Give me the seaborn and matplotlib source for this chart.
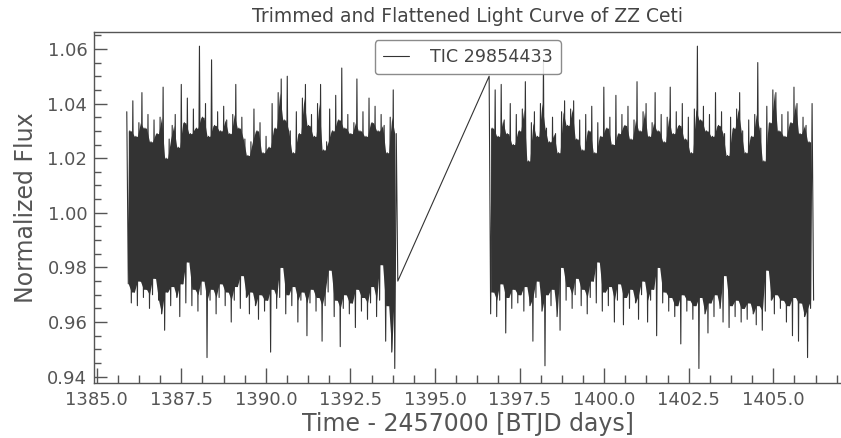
import numpy as np
import pandas as pd
import matplotlib
matplotlib.use("Agg")
import matplotlib.pyplot as plt
from matplotlib.ticker import AutoMinorLocator, MultipleLocator
import seaborn as sns

# ---------------- data ----------------
target_label = "TIC 29854433"
title = "Trimmed and Flattened Light Curve of ZZ Ceti"
xlabel = "Time - 2457000 [BTJD days]"
ylabel = "Normalized Flux"

seg1_start, seg1_end = 1385.89, 1393.90
seg2_start, seg2_end = 1396.60, 1406.19

seg1_peaks = [1.037, 1.030, 1.041, 1.028, 1.033, 1.044, 1.031, 1.036, 1.026, 1.034,
              1.029, 1.035, 1.046, 1.020, 1.027, 1.032, 1.036, 1.024, 1.047, 1.033,
              1.042, 1.029, 1.038, 1.031, 1.061, 1.035, 1.040, 1.028, 1.056, 1.032,
              1.037, 1.030, 1.039, 1.034, 1.029, 1.036, 1.047, 1.031, 1.035, 1.027,
              1.021, 1.026, 1.038, 1.030, 1.033, 1.022, 1.028, 1.024, 1.040, 1.031,
              1.044, 1.049, 1.034, 1.050, 1.030, 1.022, 1.037, 1.029, 1.042, 1.047,
              1.032, 1.036, 1.028, 1.040, 1.047, 1.023, 1.026, 1.038, 1.030, 1.043,
              1.034, 1.053, 1.031, 1.036, 1.029, 1.033, 1.049, 1.030, 1.037, 1.028,
              1.042, 1.033, 1.039, 1.030, 1.036, 1.032, 1.022, 1.035, 1.045, 1.029]
seg1_troughs = [0.974, 0.967, 0.971, 0.966, 0.975, 0.969, 0.972, 0.965, 0.970, 0.976,
                0.968, 0.963, 0.957, 0.971, 0.966, 0.973, 0.969, 0.962, 0.974, 0.967,
                0.982, 0.966, 0.972, 0.964, 0.970, 0.975, 0.947, 0.968, 0.972, 0.963,
                0.969, 0.974, 0.966, 0.971, 0.960, 0.968, 0.973, 0.965, 0.977, 0.969,
                0.963, 0.971, 0.966, 0.961, 0.970, 0.964, 0.968, 0.949, 0.972, 0.965,
                0.969, 0.980, 0.963, 0.970, 0.966, 0.973, 0.960, 0.968, 0.971, 0.955,
                0.967, 0.972, 0.964, 0.969, 0.953, 0.966, 0.971, 0.979, 0.962, 0.968,
                0.951, 0.965, 0.970, 0.963, 0.967, 0.958, 0.972, 0.964, 0.969, 0.961,
                0.967, 0.973, 0.962, 0.968, 0.981, 0.953, 0.966, 0.949, 0.943, 0.975]

seg2_peaks = [1.050, 1.031, 1.045, 1.028, 1.047, 1.034, 1.029, 1.040, 1.025, 1.036,
              1.030, 1.038, 1.048, 1.019, 1.033, 1.037, 1.028, 1.040, 1.056, 1.031,
              1.026, 1.035, 1.029, 1.022, 1.037, 1.041, 1.032, 1.038, 1.041, 1.027,
              1.034, 1.023, 1.036, 1.030, 1.039, 1.022, 1.033, 1.028, 1.046, 1.031,
              1.035, 1.025, 1.043, 1.029, 1.036, 1.032, 1.039, 1.027, 1.034, 1.048,
              1.030, 1.037, 1.040, 1.028, 1.033, 1.044, 1.030, 1.036, 1.026, 1.035,
              1.046, 1.029, 1.037, 1.032, 1.040, 1.027, 1.035, 1.022, 1.038, 1.061,
              1.034, 1.039, 1.030, 1.036, 1.028, 1.044, 1.032, 1.037, 1.029, 1.021,
              1.035, 1.031, 1.038, 1.044, 1.030, 1.022, 1.034, 1.028, 1.036, 1.055,
              1.031, 1.019, 1.039, 1.033, 1.045, 1.044, 1.030, 1.036, 1.028, 1.037,
              1.033, 1.046, 1.040, 1.029, 1.035, 1.032, 1.026, 1.040]
seg2_troughs = [0.963, 0.971, 0.962, 0.968, 0.974, 0.956, 0.969, 0.965, 0.972, 0.967,
                0.970, 0.964, 0.973, 0.966, 0.953, 0.969, 0.975, 0.964, 0.944, 0.970,
                0.966, 0.972, 0.962, 0.957, 0.980, 0.968, 0.973, 0.965, 0.970, 0.976,
                0.966, 0.972, 0.963, 0.969, 0.975, 0.967, 0.982, 0.964, 0.971, 0.966,
                0.973, 0.960, 0.968, 0.974, 0.959, 0.969, 0.965, 0.972, 0.967, 0.961,
                0.970, 0.975, 0.960, 0.968, 0.972, 0.955, 0.980, 0.967, 0.971, 0.964,
                0.969, 0.962, 0.966, 0.952, 0.970, 0.964, 0.968, 0.961, 0.966, 0.943,
                0.969, 0.963, 0.956, 0.967, 0.962, 0.970, 0.965, 0.960, 0.977, 0.958,
                0.966, 0.962, 0.968, 0.960, 0.965, 0.961, 0.967, 0.963, 0.959, 0.966,
                0.957, 0.964, 0.979, 0.968, 0.963, 0.970, 0.965, 0.968, 0.960, 0.966,
                0.955, 0.969, 0.953, 0.967, 0.962, 0.947, 0.965, 0.968]


def interleave(peaks, troughs):
    out = []
    for p, t in zip(peaks, troughs):
        out.extend([p, t])
    return out


def dense_core(peaks, troughs):
    """Region that the densely sampled curve covers solidly: between two
    neighbouring peaks (troughs) the strokes overlap up to the lower
    (higher) of the two."""
    p = np.asarray(peaks)
    t = np.asarray(troughs)
    return np.minimum(p[:-1], p[1:]), np.maximum(t[:-1], t[1:])


flux1 = interleave(seg1_peaks, seg1_troughs)
flux2 = interleave(seg2_peaks, seg2_troughs)
time1 = np.linspace(seg1_start, seg1_end, len(flux1))
time2 = np.linspace(seg2_start, seg2_end, len(flux2))

df = pd.DataFrame({
    "time": np.concatenate([time1, time2]),
    "flux": np.concatenate([flux1, flux2]),
})

# ---------------- figure ----------------
sns.set_style("ticks")
plt.rcParams["font.family"] = ["DejaVu Sans"]
text_color = "#555555"
line_color = "#333333"

fig = plt.figure(figsize=(8.41, 4.38), dpi=100)
ax = fig.add_axes([94.3 / 841, 1 - 382.7 / 438, 1 - 94.3 / 841, (382.7 - 31.7) / 438])

for t, pk, tr in [(time1, seg1_peaks, seg1_troughs), (time2, seg2_peaks, seg2_troughs)]:
    top, bot = dense_core(pk, tr)
    ax.fill_between(t[1:-1:2], bot, top, color=line_color, linewidth=0)

sns.lineplot(data=df, x="time", y="flux", ax=ax, sort=False, estimator=None,
             color=line_color, linewidth=0.8, label=target_label)

ax.set_xlim(1384.93, 1407.0)
ax.set_ylim(0.9378, 1.0663)

ax.xaxis.set_major_locator(MultipleLocator(2.5))
ax.xaxis.set_minor_locator(AutoMinorLocator(4))
ax.yaxis.set_major_locator(MultipleLocator(0.02))
ax.yaxis.set_minor_locator(AutoMinorLocator(4))
ax.xaxis.set_major_formatter(matplotlib.ticker.FormatStrFormatter("%.1f"))
ax.yaxis.set_major_formatter(matplotlib.ticker.FormatStrFormatter("%.2f"))

ax.tick_params(axis="both", which="both", direction="in", colors=text_color,
               labelsize=13, top=False, right=False)
ax.tick_params(axis="x", which="major", length=11, width=1, pad=6)
ax.tick_params(axis="x", which="minor", length=6, width=1)
ax.tick_params(axis="y", which="major", length=9, width=1, pad=5)
ax.tick_params(axis="y", which="minor", length=5, width=1)

for side in ["left", "bottom", "top"]:
    ax.spines[side].set_color(text_color)
    ax.spines[side].set_linewidth(1.0)
ax.spines["right"].set_visible(False)

ax.set_xlabel(xlabel, fontsize=17, color=text_color, labelpad=2)
ax.set_ylabel(ylabel, fontsize=17, color=text_color, labelpad=6.5)
ax.set_title(title, fontsize=13.5, color="#444444", pad=7)

leg = ax.legend(loc="upper center", fontsize=12.6, handlelength=1.5,
                handletextpad=1.2, borderpad=0.45, fancybox=True, framealpha=0.85)
leg.get_frame().set_edgecolor("#777777")
for txt in leg.get_texts():
    txt.set_color("#444444")
for ln in leg.get_lines():
    ln.set_linewidth(0.8)

fig.savefig("out.png", dpi=100)
